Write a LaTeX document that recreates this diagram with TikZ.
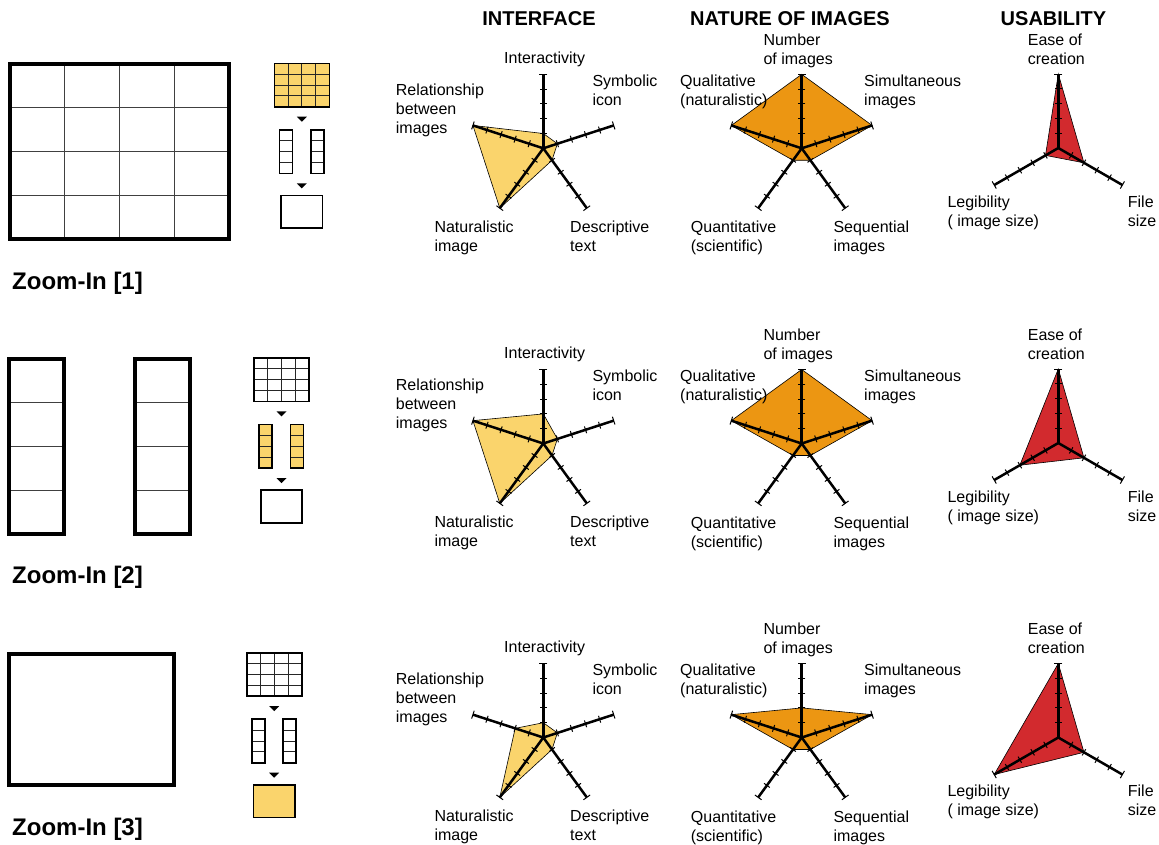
\documentclass[tikz,border=0pt]{standalone}
\usepackage{fontspec}
\setmainfont{Liberation Sans}

\definecolor{paleyellow}{HTML}{FAD46C}
\definecolor{amber}{HTML}{EC9612}
\definecolor{crimson}{HTML}{D22A2E}

\tikzset{
  frame/.style={line width=4pt},
  cellline/.style={line width=1pt, draw=black!75},
  thumb/.style={line width=1.6pt},
  thumbcell/.style={line width=0.9pt, draw=black!85},
  axisline/.style={line width=2.5pt},
  tickmark/.style={line width=1pt},
  area/.style={draw=black, line width=0.6pt},
  lab/.style={font=\fontsize{16}{19}\selectfont, inner sep=0pt, anchor=base west},
  head/.style={font=\bfseries\fontsize{20}{24}\selectfont, inner sep=0pt, anchor=base},
  zoomlab/.style={font=\bfseries\fontsize{24}{28}\selectfont, inner sep=0pt, anchor=base west},
}

% left-aligned multi-line label whose baseline is its first line
\newcommand\labstack[1]{\begin{tabular}[t]{@{}l@{}}#1\end{tabular}}

% radar chart: #1 centre, #2 fill, #3 outline path (angle:value), #4 axis angles
\newcommand\spider[4]{%
  \begin{scope}[shift={#1}, yscale=-1, scale=14.8]
    \filldraw[fill=#2, area] #3 -- cycle;
    \foreach \a in {#4} {
      \begin{scope}[rotate=-\a]
        \draw[axisline] (0,0) -- (5,0);
        \foreach \k in {1,2,3,4} \draw[tickmark] (\k,-0.24) -- (\k,0.24);
        \draw[tickmark] (5,-0.28) -- (5,0.28);
      \end{scope}
    }
  \end{scope}}

\newcommand\interfacechart[3]{% #1 name prefix, #2 centre, #3 outline
  \spider{#2}{paleyellow}{#3}{90,18,-54,-126,162}
  \begin{scope}[shift={#2}]
    \node[lab, anchor=base] (#1int) at (1.4,-85) {Interactivity};
    \node[lab] (#1sym) at (49,-62) {\labstack{Symbolic\\icon}};
    \node[lab] (#1rel) at (-147.6,-53) {\labstack{Relationship\\between\\images}};
    \node[lab] (#1nat) at (-109,84.4) {\labstack{Naturalistic\\image}};
    \node[lab] (#1des) at (26.7,84.4) {\labstack{Descriptive\\text}};
  \end{scope}}

\newcommand\naturechart[3]{%
  \spider{#2}{amber}{#3}{90,18,-54,-126,162}
  \begin{scope}[shift={#2}]
    \node[lab] (#1num) at (-38.4,-103.3) {\labstack{Number\\of images}};
    \node[lab] (#1qual) at (-121.7,-62) {\labstack{Qualitative\\(naturalistic)}};
    \node[lab] (#1sim) at (62.3,-62) {\labstack{Simultaneous\\images}};
    \node[lab] (#1quan) at (-111,84.6) {\labstack{Quantitative\\(scientific)}};
    \node[lab] (#1seq) at (31.6,84.6) {\labstack{Sequential\\images}};
  \end{scope}}

\newcommand\usabilitychart[3]{%
  \spider{#2}{crimson}{#3}{90,-30,210}
  \begin{scope}[shift={#2}]
    \node[lab] (#1ease) at (-30.6,-102.7) {\labstack{Ease of\\creation}};
    \node[lab] (#1leg) at (-111,59.3) {\labstack{Legibility\\( image size)}};
    \node[lab] (#1file) at (69.4,59.3) {\labstack{File\\size}};
  \end{scope}}

% small process sketch: #1 left, #2 top, fills of grid, strips, result
\newcommand\stages[5]{%
  \begin{scope}[shift={(#1,#2)}]
    \fill[#3] (0,0) rectangle (55,43.5);
    \foreach \u in {13.75,27.5,41.25} \draw[thumbcell] (\u,0) -- (\u,43.5);
    \foreach \v in {10.875,21.75,32.625} \draw[thumbcell] (0,\v) -- (55,\v);
    \draw[thumb] (0,0) rectangle (55,43.5);
    \fill (22.5,53.4) -- (32.5,53.4) -- (27.5,58.4) -- cycle;
    \foreach \l in {5,36.5} {
      \fill[#4] (\l,66.5) rectangle ++(13,43.5);
      \foreach \v in {77.375,88.25,99.125} \draw[thumbcell] (\l,\v) -- ++(13,0);
      \draw[thumb] (\l,66.5) rectangle ++(13,43.5);
    }
    \fill (22.5,120) -- (32.5,120) -- (27.5,125) -- cycle;
    \filldraw[fill=#5, thumb] (6.7,132) rectangle (48,164.7);
  \end{scope}}

\begin{document}
\begin{tikzpicture}[x=1pt, y=-1pt]
\useasboundingbox (0,0) rectangle (1159,844);

% column headings
\node[head] (hint) at (539,25) {INTERFACE};
\node[head] (hnat) at (790,25) {NATURE OF IMAGES};
\node[head] (husa) at (1053.5,25) {USABILITY};

% ---- row 1: full grid ----
\foreach \u in {64.75,119.5,174.25} \draw[cellline] (\u,63.7) -- (\u,239);
\foreach \v in {107.5,151.3,195.2} \draw[cellline] (10,\v) -- (229,\v);
\draw[frame] (10,63.7) rectangle (229,239);
\node[zoomlab] (z1) at (12,289) {Zoom-In [1]};
\stages{274.3}{63.3}{paleyellow}{white}{white}

% ---- row 2: two strips ----
\foreach \l/\r in {9.3/63.7,135.3/189.7} {
  \foreach \v in {402.5,446.3,490.2} \draw[cellline] (\l,\v) -- (\r,\v);
  \draw[frame] (\l,358.7) rectangle (\r,534);
}
\node[zoomlab] (z2) at (12,583) {Zoom-In [2]};
\stages{254}{358}{white}{paleyellow}{white}

% ---- row 3: single image ----
\draw[frame] (9.3,653.7) rectangle (174,784.7);
\node[zoomlab] (z3) at (12,835) {Zoom-In [3]};
\stages{246.7}{652.7}{white}{white}{paleyellow}

% ---- radar charts ----
\interfacechart{a1}{(543.3,148.3)}{(90:1) -- (18:1) -- (-54:1) -- (-126:5) -- (162:5)}
\interfacechart{a2}{(543.3,443.5)}{(90:2) -- (18:1) -- (-54:1) -- (-126:5) -- (162:5)}
\interfacechart{a3}{(543.3,737.5)}{(90:1) -- (18:1) -- (-54:1) -- (-126:5) -- (162:2)}

\naturechart{b1}{(801.7,148.3)}{(90:5) -- (18:5) -- (-54:1) -- (-126:1) -- (162:5)}
\naturechart{b2}{(801.7,443.5)}{(90:5) -- (18:5) -- (-54:1) -- (-126:1) -- (162:5)}
\naturechart{b3}{(801.7,737.5)}{(90:2) -- (18:5) -- (-54:1) -- (-126:1) -- (162:5)}

\usabilitychart{c1}{(1058.3,148)}{(90:5) -- (-30:2) -- (210:1)}
\usabilitychart{c2}{(1058.3,443)}{(90:5) -- (-30:2) -- (210:3)}
\usabilitychart{c3}{(1058.3,737.5)}{(90:5) -- (-30:2) -- (210:5)}

\end{tikzpicture}
\end{document}
